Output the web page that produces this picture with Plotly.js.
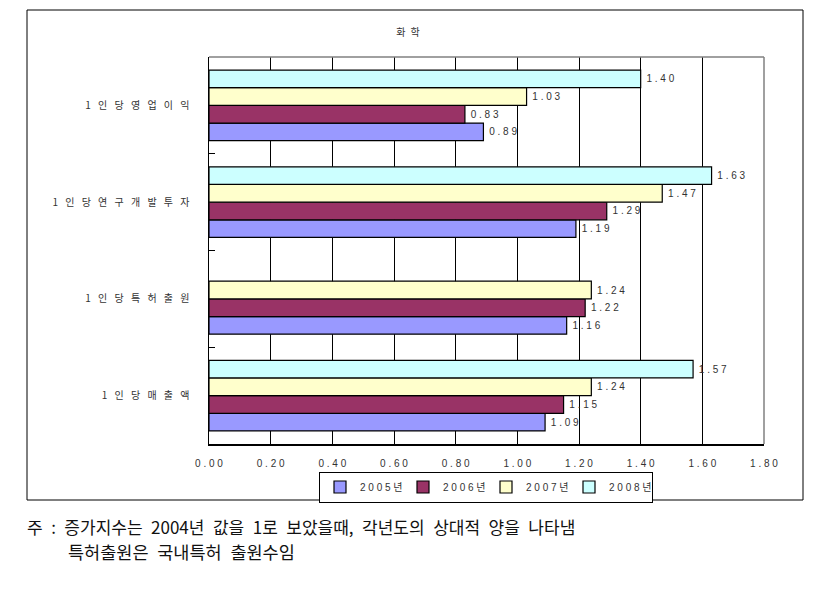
<!DOCTYPE html>
<html>
<head>
<meta charset="utf-8">
<script src="https://cdn.plot.ly/plotly-3.0.1.min.js"></script>
<style>
  html, body { margin: 0; padding: 0; background: #fff; }
  #chart { width: 814px; height: 598px; }
</style>
</head>
<body>
<div id="chart"></div>
<script>
/* 화학 업종 증가지수 (2004 = 1) — horizontal grouped bars */

// bottom-to-top order for plotly's category axis
const CATEGORIES = ['1인당매출액', '1인당특허출원', '1인당연구개발투자', '1인당영업이익'];
const YEARS = ['2005년', '2006년', '2007년', '2008년'];
const V2005 = [1.09, 1.16, 1.19, 0.89];
const V2006 = [1.15, 1.22, 1.29, 0.83];
const V2007 = [1.24, 1.24, 1.47, 1.03];
const V2008 = [1.57, null, 1.63, 1.40];
const X_TICKS = [0, 0.2, 0.4, 0.6, 0.8, 1.0, 1.2, 1.4, 1.6, 1.8];

const COLORS = ['#9999FF', '#993366', '#FFFFCC', '#CCFFFF'];
const FONT = 'Liberation Sans, Arial, "Noto Sans CJK KR", sans-serif';
const KFONT = '"Noto Sans CJK KR", sans-serif';
const TXT = '#333333';

// Excel-style letter spacing
const spaced = s => s.split('').join(' ');
const wide = s => s.split('').join('\u2002 ');
const ensp = s => s.replace(/ /g, '\u2002');

const series = [V2005, V2006, V2007, V2008];
const traces = series.map((vals, i) => ({
  type: 'bar', orientation: 'h',
  name: spaced(YEARS[i]),
  y: CATEGORIES, x: vals,
  marker: { color: COLORS[i], line: { color: '#000', width: 1.2 } },
  text: vals.map(v => v === null ? '' : ' ' + spaced(v.toFixed(2))),
  textposition: 'outside', cliponaxis: false,
  textfont: { family: FONT, size: 10, color: TXT },
  hoverinfo: 'skip'
}));

// plot area in pixels: x 209..764, y 57..444
const L = 209, R = 764, T = 57, B = 444;
const px = x => (x - L) / (R - L);
const py = y => (B - y) / (B - T);

const layout = {
  width: 814, height: 598,
  margin: { l: L, r: 814 - R, t: T, b: 598 - B },
  paper_bgcolor: '#fff', plot_bgcolor: '#fff',
  font: { family: FONT, size: 10, color: TXT },
  barmode: 'group', bargap: 0.27, bargroupgap: 0,
  title: { text: '화\u2002학', x: 408 / 814, y: 1 - 32 / 598, xanchor: 'center', yanchor: 'middle',
           font: { family: KFONT, size: 10, color: TXT } },
  xaxis: {
    range: [0, 1.8], tickvals: X_TICKS, ticktext: X_TICKS.map(v => spaced(v.toFixed(2))),
    showgrid: true, gridcolor: '#000', gridwidth: 1,
    showline: true, linecolor: '#000', linewidth: 1.5,
    ticks: '', ticklabelstandoff: 9, zeroline: false,
    tickfont: { size: 10, color: TXT }
  },
  yaxis: {
    type: 'category', categoryorder: 'array', categoryarray: CATEGORIES,
    tickvals: CATEGORIES, ticktext: CATEGORIES.map(wide),
    tickson: 'boundaries', ticks: 'inside', ticklen: 6, tickcolor: '#000',
    showgrid: false, showline: true, linecolor: '#000', linewidth: 1.5,
    ticklabelstandoff: 16, tickfont: { family: KFONT, size: 10, color: TXT }
  },
  showlegend: true,
  legend: {
    orientation: 'h', x: px(486), y: py(487), xanchor: 'center', yanchor: 'middle',
    bordercolor: '#000', borderwidth: 1, bgcolor: '#fff',
    font: { size: 10, color: TXT }, itemwidth: 30, entrywidth: 38, tracegroupgap: 0
  },
  shapes: [
    // outer frame
    { type: 'rect', xref: 'paper', yref: 'paper', x0: px(27), x1: px(803), y0: py(500), y1: py(10),
      line: { color: '#000', width: 1 }, layer: 'below' },
    // grey top / right plot border
    { type: 'line', xref: 'paper', yref: 'paper', x0: 0, x1: 1, y0: 1, y1: 1,
      line: { color: '#808080', width: 1.5 } },
    { type: 'line', xref: 'paper', yref: 'paper', x0: 1, x1: 1, y0: 0, y1: 1,
      line: { color: '#808080', width: 1.5 } }
  ],
  annotations: [
    { xref: 'paper', yref: 'paper', x: px(25), y: py(526), xanchor: 'left', yanchor: 'middle',
      showarrow: false, text: ensp('주 : 증가지수는 2004년 값을 1로 보았을때, 각년도의 상대적 양을 나타냄'),
      font: { family: KFONT, size: 17, color: '#111' } },
    { xref: 'paper', yref: 'paper', x: px(66), y: py(551), xanchor: 'left', yanchor: 'middle',
      showarrow: false, text: ensp('특허출원은 국내특허 출원수임'),
      font: { family: KFONT, size: 17.5, color: '#111' } }
  ]
};

Plotly.newPlot('chart', traces, layout, { displayModeBar: false, staticPlot: true });
</script>
</body>
</html>
